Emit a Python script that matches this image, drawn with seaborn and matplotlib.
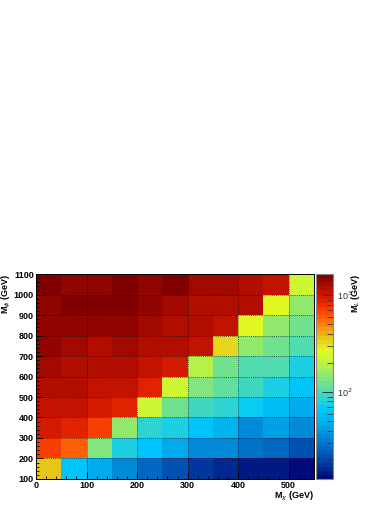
import numpy as np
import pandas as pd
import seaborn as sns
import matplotlib.pyplot as plt
from matplotlib.colors import LogNorm, LinearSegmentedColormap
from matplotlib.ticker import LogLocator, MultipleLocator, NullFormatter

# bin centres in GeV
m_chi = [25, 75, 125, 175, 225, 275, 325, 375, 425, 475, 525]
m_phi = [150, 250, 350, 450, 550, 650, 750, 850, 950, 1050]

# M_L (GeV), one list per M_phi row (lowest first), columns follow m_chi
ml_150 = [364, 65, 46, 35, 27, 22, 18, 16, 15, 14, 13]
ml_250 = [699, 621, 135, 79, 65, 48, 37, 34, 29, 26, 22]
ml_350 = [964, 904, 699, 152, 85, 79, 65, 51, 35, 42, 35]
ml_450 = [1077, 1036, 964, 887, 235, 122, 98, 85, 71, 57, 46]
ml_550 = [1142, 1142, 1077, 1036, 904, 235, 137, 110, 93, 79, 65]
ml_650 = [1276, 1142, 1142, 1142, 1036, 990, 193, 131, 105, 105, 79]
ml_750 = [1421, 1321, 1228, 1276, 1186, 1186, 1077, 330, 152, 122, 100]
ml_850 = [1477, 1477, 1421, 1374, 1276, 1142, 1228, 1114, 272, 159, 122]
ml_950 = [1421, 1528, 1590, 1528, 1421, 1321, 1228, 1186, 1142, 272, 159]
ml_1050 = [1646, 1477, 1477, 1528, 1477, 1528, 1321, 1276, 1186, 1036, 235]

x_ticks = [0, 100, 200, 300, 400, 500]
y_ticks = [100, 200, 300, 400, 500, 600, 700, 800, 900, 1000, 1100]
z_min, z_max = 12.7, 1650

# ROOT-like rainbow palette, 50 colour levels
palette_rgb = [
    (0.000, (0, 10, 120)),
    (0.068, (0, 60, 160)),
    (0.117, (0, 90, 185)),
    (0.190, (0, 130, 210)),
    (0.263, (0, 170, 235)),
    (0.337, (0, 202, 252)),
    (0.385, (45, 210, 212)),
    (0.434, (85, 221, 172)),
    (0.493, (130, 230, 122)),
    (0.556, (185, 242, 68)),
    (0.629, (225, 250, 35)),
    (0.700, (232, 192, 25)),
    (0.751, (248, 135, 15)),
    (0.824, (255, 70, 0)),
    (0.873, (228, 36, 0)),
    (0.920, (192, 18, 0)),
    (1.000, (128, 0, 0)),
]
root_cmap = LinearSegmentedColormap.from_list(
    "root_rainbow", [(p, tuple(c / 255 for c in rgb)) for p, rgb in palette_rgb], N=50
)

rows = [ml_150, ml_250, ml_350, ml_450, ml_550, ml_650, ml_750, ml_850, ml_950, ml_1050]
df = pd.DataFrame(rows, index=m_phi, columns=m_chi)

plt.rcParams["font.family"] = ["Liberation Sans", "DejaVu Sans"]
plt.rcParams["mathtext.fontset"] = "dejavusans"

fig = plt.figure(figsize=(3.9, 5.05), dpi=100)
ax = fig.add_axes([0.0923, 0.0515, 0.7128, 0.4059])
cax = fig.add_axes([0.8103, 0.0515, 0.0436, 0.4059])

sns.heatmap(df, ax=ax, cmap=root_cmap, norm=LogNorm(vmin=z_min, vmax=z_max),
            cbar_ax=cax, xticklabels=False, yticklabels=False)
ax.set_ylim(0, len(m_phi))

# map GeV to heatmap cell coordinates
dx = m_chi[1] - m_chi[0]
dy = m_phi[1] - m_phi[0]
x0 = m_chi[0] - dx / 2
y0 = m_phi[0] - dy / 2

ax.set_xticks([(v - x0) / dx for v in x_ticks], [str(v) for v in x_ticks])
ax.set_yticks([(v - y0) / dy for v in y_ticks], [str(v) for v in y_ticks])
ax.xaxis.set_minor_locator(MultipleLocator(20 / dx))
ax.yaxis.set_minor_locator(MultipleLocator(20 / dy))
ax.tick_params(which="both", direction="in", bottom=True, left=True, top=False, right=False,
               colors="black", labelsize=6.5, pad=1.5)
ax.tick_params(which="major", length=5, width=0.7)
ax.tick_params(which="minor", length=2.5, width=0.6)
for lab in ax.get_xticklabels() + ax.get_yticklabels():
    lab.set_fontweight("bold")

for side in ["top", "bottom", "left", "right"]:
    ax.spines[side].set_visible(True)
    ax.spines[side].set_color("black")
    ax.spines[side].set_linewidth(0.7)

ax.grid(True, which="major", linestyle=(0, (1, 1.5)), color="black", linewidth=0.6, alpha=0.75)
ax.set_axisbelow(False)

ax.set_xlabel(r"M$_{\chi}$ (GeV)", fontsize=6.5, fontweight="bold", loc="right")
ax.xaxis.set_label_coords(1.0, -0.052)
ax.set_ylabel(r"M$_{\phi}$ (GeV)", fontsize=6.5, fontweight="bold", loc="top")
ax.yaxis.set_label_coords(-0.083, 1.0)

cb = ax.collections[0].colorbar
cb.outline.set_linewidth(0.8)
cb.outline.set_edgecolor("#888888")
cb.set_ticks([100, 1000], labels=["10$^{2}$", "10$^{3}$"])
cax.yaxis.set_minor_locator(LogLocator(base=10, subs=np.arange(2, 10)))
cax.yaxis.set_minor_formatter(NullFormatter())
cax.yaxis.set_ticks_position("right")
cax.tick_params(which="both", direction="in", colors="#333333", labelsize=6.5, pad=3)
cax.tick_params(which="major", length=8, width=0.7)
cax.tick_params(which="minor", length=4.5, width=0.6)

fig.text(0.912, 0.458, r"M$_{L}$ (GeV)", rotation=90, ha="center", va="top",
         fontsize=6.5, fontweight="bold")

fig.savefig("out.png", dpi=100, facecolor="white")
